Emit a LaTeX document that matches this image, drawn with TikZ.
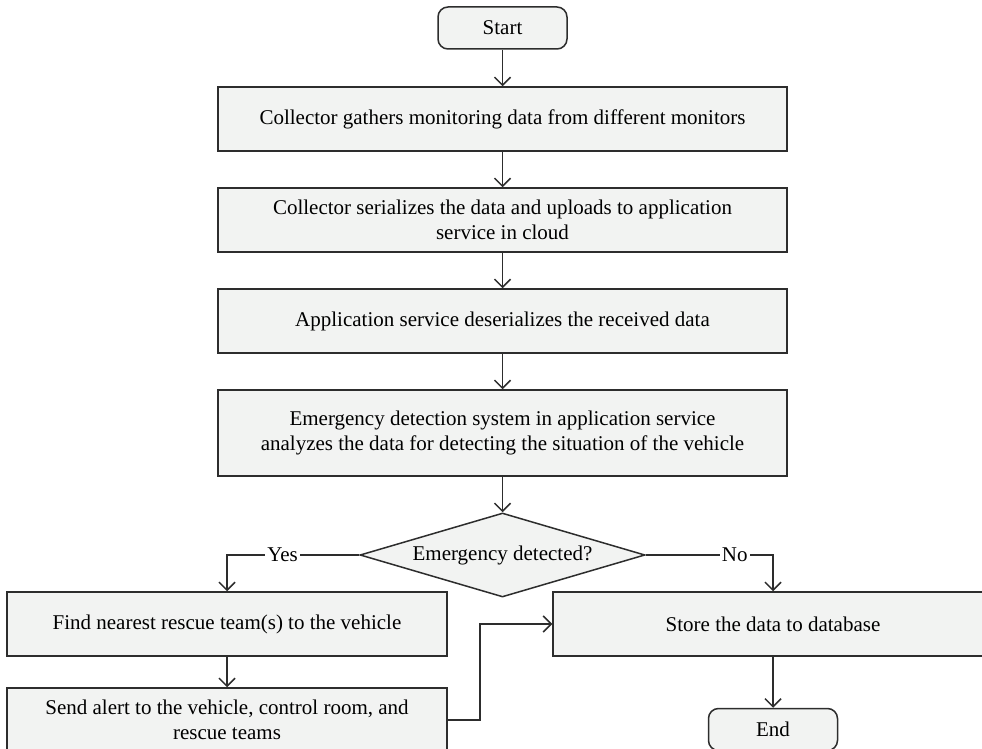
\documentclass[tikz,border=0pt]{standalone}
\usepackage{fontspec}
\setmainfont{Liberation Serif}
\usetikzlibrary{arrows.meta, shapes.geometric}
\definecolor{flowline}{RGB}{45,45,45}
\definecolor{flowfill}{RGB}{242,243,242}

\begin{document}
\begin{tikzpicture}[
    x=0.5pt, y=-0.5pt,
    every node/.style={font=\fontsize{10.5}{12.5}\selectfont, text=black},
    stepbox/.style={draw=flowline, fill=flowfill, line width=0.75pt,
                    minimum width=284.5pt, minimum height=32pt, align=center},
    sidebox/.style={stepbox, minimum width=220pt},
    terminal/.style={draw=flowline, fill=flowfill, line width=0.75pt,
                     rounded corners=5pt, minimum width=64.5pt, minimum height=21pt},
    decision/.style={diamond, draw=flowline, fill=flowfill, line width=0.75pt,
                     aspect=3.4, inner sep=0pt,
                     minimum width=142.5pt, minimum height=42pt},
    arrow/.style={-{Straight Barb[length=4pt, width=8pt]}, flowline, line width=0.75pt},
    answer/.style={fill=white, inner sep=1pt}
  ]
    \useasboundingbox (0,0) rectangle (982,749);

    \node[terminal] (start) at (502.5,28) {Start};
    \node[stepbox] (gather) at (502.5,119) {Collector gathers monitoring data from different monitors};
    \node[stepbox] (serial) at (502.5,220) {Collector serializes the data and uploads to application\\service in cloud};
    \node[stepbox] (deser) at (502.5,321) {Application service deserializes the received data};
    \node[stepbox, minimum height=43pt] (analyze) at (502.5,433) {Emergency detection system in application service\\analyzes the data for detecting the situation of the vehicle};
    \node[decision] (decide) at (502.5,555) {Emergency detected?};

    \node[sidebox] (find) at (227,624) {Find nearest rescue team(s) to the vehicle};
    \node[sidebox] (alert) at (227,720) {Send alert to the vehicle, control room, and\\rescue teams};
    \node[sidebox] (store) at (773,624) {Store the data to database};
    \node[terminal] (finish) at (773,729.5) {End};

    \draw[arrow] (start) -- (gather);
    \draw[arrow] (gather) -- (serial);
    \draw[arrow] (serial) -- (deser);
    \draw[arrow] (deser) -- (analyze);
    \draw[arrow] (analyze) -- (decide);

    % branches of the decision
    \draw[arrow] (decide.west) -| node[answer, pos=0.29] {Yes} (find.north);
    \draw[arrow] (decide.east) -| node[answer, pos=0.35] {No} (store.north);

    \draw[arrow] (find) -- (alert);
    \draw[arrow] (alert.east) -- ++(32,0) |- (store.west);
    \draw[arrow] (store) -- (finish);
  \end{tikzpicture}
\end{document}
